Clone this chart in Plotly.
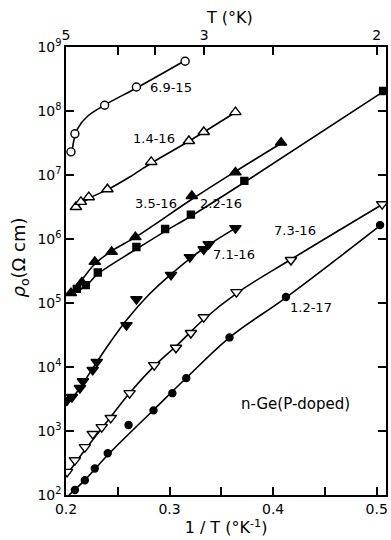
import plotly.graph_objects as go
import math

# ---------------- data ----------------
# marker points: x = 1/T (K^-1), y = rho0 (ohm cm)
x_69_15 = [0.2048, 0.2086, 0.2373, 0.268, 0.315]
y_69_15 = [2.3e7, 4.4e7, 1.23e8, 2.37e8, 6.0e8]

x_14_16 = [0.2096, 0.2144, 0.222, 0.240, 0.2823, 0.3187, 0.333, 0.3636]
y_14_16 = [3.16e6, 3.8e6, 4.5e6, 6.0e6, 1.6e7, 3.4e7, 4.7e7, 9.6e7]

x_35_16 = [0.2048, 0.2153, 0.2278, 0.2441, 0.267, 0.3215, 0.3636, 0.4077]
y_35_16 = [1.43e5, 2.1e5, 4.4e5, 6.3e5, 1.07e6, 4.7e6, 1.1e7, 3.2e7]

x_22_16 = [0.2105, 0.2191, 0.2307, 0.268, 0.2957, 0.3206, 0.3722, 0.5062]
y_22_16 = [1.66e5, 1.9e5, 3.0e5, 7.5e5, 1.43e6, 2.4e6, 8.1e6, 2.05e8]

x_71_16 = [0.201, 0.2057, 0.2134, 0.2163, 0.2258, 0.2297, 0.2584, 0.268,
           0.3014, 0.3196, 0.333, 0.3378, 0.3636]
y_71_16 = [3.05e3, 3.4e3, 4.7e3, 6.0e3, 9.0e3, 1.2e4, 4.5e4, 1.15e5,
           2.75e5, 5.2e5, 6.9e5, 8.3e5, 1.48e6]

x_73_16 = [0.201, 0.2086, 0.2182, 0.2258, 0.2345, 0.2432, 0.2614, 0.2852,
           0.3062, 0.3206, 0.333, 0.3646, 0.4172, 0.5053]
y_73_16 = [2.3e2, 3.5e2, 5.6e2, 9.0e2, 1.15e3, 1.6e3, 3.9e3, 1.07e4,
           2.0e4, 3.4e4, 6.0e4, 1.48e5, 4.7e5, 3.5e6]

x_12_17 = [0.2086, 0.2182, 0.2278, 0.2403, 0.2604, 0.2845, 0.3027, 0.3161,
           0.3579, 0.4124, 0.5033]
y_12_17 = [1.2e2, 1.7e2, 2.6e2, 4.5e2, 1.24e3, 2.1e3, 3.9e3, 6.7e3,
           2.9e4, 1.24e5, 1.65e6]

# fitted curves drawn through the data (knots)
cx_69_15 = [0.2058, 0.2077, 0.2115, 0.2211, 0.2374, 0.2681, 0.3142]
cy_69_15 = [2.29e7, 3.52e7, 5.42e7, 8.35e7, 1.24e8, 2.29e8, 6.04e8]

cx_14_16 = [0.2086, 0.2230, 0.2413, 0.2614, 0.2825, 0.3190, 0.3641]
cy_14_16 = [3.05e6, 4.38e6, 6.04e6, 9.3e6, 1.54e7, 3.40e7, 9.64e7]

cx_35_16 = [0.2086, 0.2154, 0.2278, 0.2441, 0.2672, 0.3219, 0.3641, 0.4083]
cy_35_16 = [1.6e5, 2.29e5, 4.07e5, 6.49e5, 1.07e6, 4.22e6, 1.15e7, 3.16e7]

cx_22_16 = [0.2134, 0.2202, 0.2307, 0.2681, 0.2960, 0.3209, 0.3727, 0.5071]
cy_22_16 = [1.6e5, 1.91e5, 2.84e5, 6.98e5, 1.33e6, 2.29e6, 7.78e6, 2.05e8]

cx_71_16 = [0.2000, 0.2134, 0.2278, 0.2422, 0.2585, 0.2806, 0.3027, 0.3334, 0.3641]
cy_71_16 = [2.46e3, 4.7e3, 1.07e4, 2.37e4, 5.42e4, 1.38e5, 2.94e5, 7.23e5, 1.49e6]

cx_73_16 = [0.2000, 0.2182, 0.2432, 0.2614, 0.2854, 0.3075, 0.3334, 0.3651, 0.4179, 0.5061]
cy_73_16 = [1.98e2, 5.05e2, 1.66e3, 3.93e3, 1.04e4, 2.21e4, 5.62e4, 1.43e5, 4.87e5, 3.52e6]

cx_12_17 = [0.2029, 0.2182, 0.2403, 0.2845, 0.3161, 0.3584, 0.4131, 0.5042]
cy_12_17 = [1.0e2, 1.71e2, 4.22e2, 2.13e3, 6.73e3, 2.94e4, 1.24e5, 1.66e6]

# labels
label_names = ["6.9-15", "1.4-16", "3.5-16", "2.2-16", "7.1-16", "7.3-16", "1.2-17"]
label_x = [0.3017, 0.2854, 0.2873, 0.3497, 0.3622, 0.4207, 0.4370]
label_y = [2.29e8, 3.78e7, 3.65e6, 3.65e6, 5.83e5, 1.38e6, 8.66e4]
note_x, note_y = 0.4217, 2.63e3

# tick labels
y_tickvals = [1e2, 1e3, 1e4, 1e5, 1e6, 1e7, 1e8, 1e9]
y_ticktext = ["10<sup>%d</sup>" % k for k in range(2, 10)]
x_tickvals = [0.2, 0.25, 0.3, 0.35, 0.4, 0.45, 0.5]
x_ticktext = ["0.2", " ", "0.3", " ", "0.4", " ", "0.5"]
T_vals = [5, 4, 3.5, 3, 2.5, 2]
T_text = ["5", " ", " ", "3", " ", "2"]

FONT = "DejaVu Sans"
BLK = "black"

fig = go.Figure()

series = [
    (cx_69_15, cy_69_15, x_69_15, y_69_15, "circle", "white", 8),
    (cx_14_16, cy_14_16, x_14_16, y_14_16, "triangle-up", "white", 10),
    (cx_35_16, cy_35_16, x_35_16, y_35_16, "triangle-up", BLK, 10),
    (cx_22_16, cy_22_16, x_22_16, y_22_16, "square", BLK, 7),
    (cx_71_16, cy_71_16, x_71_16, y_71_16, "triangle-down", BLK, 10),
    (cx_73_16, cy_73_16, x_73_16, y_73_16, "triangle-down", "white", 10),
    (cx_12_17, cy_12_17, x_12_17, y_12_17, "circle", BLK, 7),
]

for cx, cy, mx, my, sym, fill, sz in series:
    fig.add_trace(go.Scatter(x=cx, y=cy, mode="lines",
                             line=dict(color=BLK, width=1.6, shape="spline", smoothing=1.0),
                             showlegend=False, hoverinfo="skip"))
    fig.add_trace(go.Scatter(x=mx, y=my, mode="markers",
                             marker=dict(symbol=sym, size=sz, color=fill,
                                         line=dict(color=BLK, width=1.4)),
                             showlegend=False))

# invisible trace to carry the top/right axes
fig.add_trace(go.Scatter(x=[0.3], y=[1e5], xaxis="x2", yaxis="y2", mode="markers",
                         marker=dict(opacity=0), showlegend=False, hoverinfo="skip"))

for name, lx, ly in zip(label_names, label_x, label_y):
    fig.add_annotation(x=lx, y=math.log10(ly), yref="y", xref="x", text=name,
                       showarrow=False, font=dict(family=FONT, size=13, color=BLK))

fig.add_annotation(x=note_x, y=math.log10(note_y), xref="x", yref="y",
                   text="n-Ge(P-doped)", showarrow=False,
                   font=dict(family=FONT, size=15, color=BLK))

fig.add_annotation(x=0.51, xref="paper", y=1, yref="paper", yanchor="middle", yshift=30,
                   text="T (°K)", showarrow=False,
                   font=dict(family=FONT, size=16, color=BLK))

fig.add_annotation(x=0, xref="paper", xanchor="center", xshift=-46, y=0.53, yref="paper",
                   yanchor="middle", textangle=-90,
                   text="<i>ρ</i><sub>o</sub>(Ω cm)", showarrow=False,
                   font=dict(family=FONT, size=18, color=BLK))

axis_common = dict(showline=True, linecolor=BLK, linewidth=1.5, ticks="inside",
                   tickcolor=BLK, tickwidth=1.5, ticklen=8, showgrid=False, zeroline=False,
                   tickfont=dict(family=FONT, size=14, color=BLK))

fig.update_layout(
    width=391, height=540,
    margin=dict(l=66, r=3, t=47, b=45),
    paper_bgcolor="white", plot_bgcolor="white",
    xaxis=dict(range=[0.2, 0.509], tickmode="array", tickvals=x_tickvals,
               ticktext=x_ticktext,
               title=dict(text="1 / T (°K<sup>-1</sup>)", standoff=2,
                          font=dict(family=FONT, size=16, color=BLK)),
               **axis_common),
    yaxis=dict(type="log", range=[2, 9], tickmode="array", tickvals=y_tickvals,
               ticktext=y_ticktext, **axis_common),
    xaxis2=dict(overlaying="x", side="top", anchor="y", range=[0.2, 0.509],
                tickmode="array", tickvals=[1.0 / t for t in T_vals], ticktext=T_text,
                **axis_common),
    yaxis2=dict(overlaying="y", side="right", anchor="x", type="log", range=[2, 9],
                tickmode="array", tickvals=y_tickvals, showticklabels=False,
                **axis_common),
)

fig.write_html("out.html", config={"displayModeBar": False},
               post_script="document.body.style.margin='0';")
